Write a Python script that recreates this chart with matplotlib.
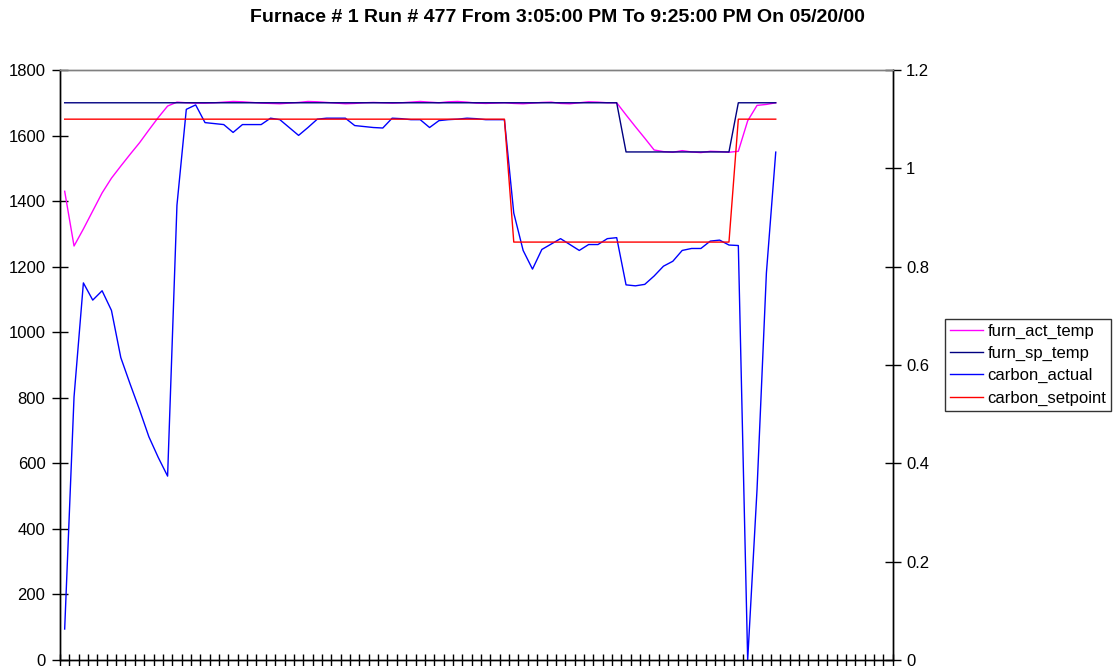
import numpy as np
import matplotlib
matplotlib.use('Agg')
import matplotlib.pyplot as plt

plt.rcParams['font.family'] = ['Liberation Sans', 'DejaVu Sans']

# one reading every 5 minutes, 3:05 PM .. 9:25 PM
n_slots = 89

furn_act_temp = [1430, 1263, 1315, 1370, 1425, 1470, 1507, 1543, 1578, 1617,
                 1655, 1690, 1702, 1700, 1699, 1699, 1700, 1702, 1704, 1703,
                 1701, 1699, 1698, 1697, 1699, 1701, 1704, 1703, 1701, 1699,
                 1697, 1698, 1700, 1701, 1700, 1699, 1700, 1702, 1704, 1702,
                 1700, 1703, 1704, 1702, 1699, 1698, 1699, 1700, 1698, 1697,
                 1699, 1701, 1702, 1698, 1697, 1700, 1703, 1702, 1700, 1700,
                 1663, 1627, 1592, 1556, 1551, 1549, 1554, 1550, 1548, 1552,
                 1551, 1549, 1552, 1645, 1692, 1695, 1700]

furn_sp_temp = [1700] * 60 + [1550] * 12 + [1700] * 5

carbon_actual = [0.063, 0.535, 0.767, 0.732, 0.751, 0.711, 0.615, 0.561, 0.509, 0.454,
                 0.412, 0.374, 0.925, 1.120, 1.129, 1.093, 1.091, 1.089, 1.073, 1.089,
                 1.089, 1.089, 1.102, 1.099, 1.083, 1.067, 1.083, 1.100, 1.102, 1.102,
                 1.102, 1.087, 1.085, 1.083, 1.082, 1.102, 1.101, 1.099, 1.099, 1.083,
                 1.097, 1.099, 1.100, 1.102, 1.101, 1.099, 1.099, 1.099, 0.909, 0.833,
                 0.795, 0.835, 0.846, 0.857, 0.845, 0.833, 0.845, 0.845, 0.857, 0.859,
                 0.763, 0.761, 0.764, 0.781, 0.801, 0.811, 0.833, 0.837, 0.837, 0.852,
                 0.854, 0.844, 0.843, 0.0, 0.347, 0.787, 1.033]

carbon_setpoint = [1.1] * 48 + [0.85] * 24 + [1.1] * 5

x = np.arange(len(furn_act_temp))

fig = plt.figure(figsize=(11.14, 6.66), dpi=100)
ax = fig.add_axes([60 / 1114, 6 / 666, 832.7 / 1114, 590 / 666])
ax2 = ax.twinx()

l1, = ax.plot(x, furn_act_temp, color='#FF00FF', linewidth=1.0, label='furn_act_temp')
l2, = ax.plot(x, furn_sp_temp, color='#000080', linewidth=1.0, label='furn_sp_temp')
l3, = ax2.plot(x, carbon_actual, color='#0000FF', linewidth=1.0, label='carbon_actual')
l4, = ax2.plot(x, carbon_setpoint, color='#FF0000', linewidth=1.0, label='carbon_setpoint')

ax.set_xlim(-0.5, n_slots - 0.5)
ax.set_ylim(0, 1800)
ax2.set_ylim(0, 1.2)

ax.set_xticks(np.arange(-0.5, n_slots, 1))
ax.set_xticklabels([])
ax.set_yticks(np.arange(0, 1801, 200))
ax2.set_yticks([0, 0.2, 0.4, 0.6, 0.8, 1.0, 1.2])
ax2.set_yticklabels(['0', '0.2', '0.4', '0.6', '0.8', '1', '1.2'])

ax.tick_params(axis='x', direction='inout', length=9, width=1.0, color='black')
ax.tick_params(axis='y', direction='inout', length=11, width=1.0, labelsize=12, pad=5)
ax2.tick_params(axis='y', direction='inout', length=11, width=1.0, labelsize=12, pad=4)

for a in (ax, ax2):
    a.spines['top'].set_color('#808080')
    a.spines['top'].set_linewidth(1.0)
    for s in ('left', 'right', 'bottom'):
        a.spines[s].set_color('black')
        a.spines[s].set_linewidth(1.0)

fig.text(0.5, 1 - 18 / 666, 'Furnace # 1 Run # 477 From 3:05:00 PM To 9:25:00 PM On 05/20/00',
         ha='center', va='center', fontsize=14, fontweight='bold')

leg = fig.legend([l1, l2, l3, l4], [l.get_label() for l in (l1, l2, l3, l4)],
                 loc='upper left', bbox_to_anchor=(945 / 1114, 1 - 319 / 666),
                 fontsize=12, frameon=True, fancybox=False, shadow=False,
                 handlelength=2.0, handletextpad=0.25, labelspacing=0.42,
                 borderpad=0.3, borderaxespad=0)
leg.get_frame().set_edgecolor('black')
leg.get_frame().set_linewidth(1.0)

plt.savefig('out.png', dpi=100)
